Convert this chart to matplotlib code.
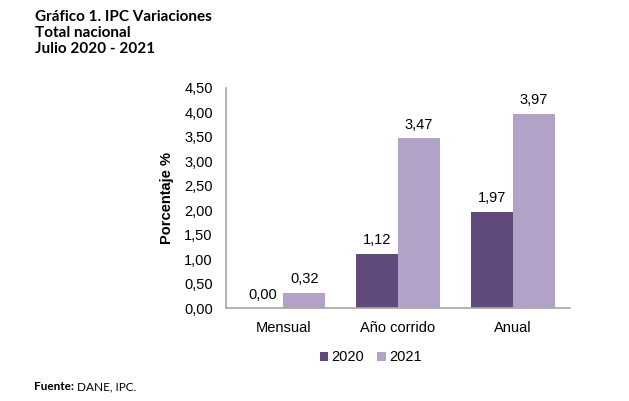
import numpy as np
from matplotlib import pyplot as plt

# Datos del gráfico
categorias = ['Mensual', 'Año corrido', 'Anual']
ipc_2020 = [0.00, 1.12, 1.97]
ipc_2021 = [0.32, 3.47, 3.97]
yticks = [0, 0.5, 1, 1.5, 2, 2.5, 3, 3.5, 4, 4.5]

def coma(v):
    return f"{v:.2f}".replace('.', ',')

plt.rcParams['font.family'] = ['Liberation Sans', 'DejaVu Sans']

fig = plt.figure(figsize=(6.29, 4.01), dpi=100)
ax = fig.add_axes([0.3593, 0.2307, 0.5469, 0.5499])

x = np.arange(len(categorias))
w = 0.366
b1 = ax.bar(x - w / 2, ipc_2020, w, color='#604A7B', label='2020')
b2 = ax.bar(x + w / 2, ipc_2021, w, color='#B3A2C7', label='2021')

for bars, vals in [(b1, ipc_2020), (b2, ipc_2021)]:
    for r, v in zip(bars, vals):
        ax.annotate(coma(v), (r.get_x() + r.get_width() / 2, v),
                    xytext=(0, 5), textcoords='offset points',
                    ha='center', va='bottom', fontsize=10.5, color='black')

ax.set_xlim(-0.5, 2.5)
ax.set_ylim(0, 4.5)
ax.set_yticks(yticks)
ax.set_yticklabels([coma(t) for t in yticks])
ax.set_xticks(x)
ax.set_xticklabels(categorias)
ax.tick_params(axis='both', length=0, labelsize=10.5, colors='black')
ax.tick_params(axis='y', pad=9.5)
ax.tick_params(axis='x', pad=9)

for s in ['top', 'right']:
    ax.spines[s].set_visible(False)
for s in ['left', 'bottom']:
    ax.spines[s].set_color('#A6A6A6')
    ax.spines[s].set_linewidth(1.2)

ax.set_ylabel('Porcentaje %', fontsize=10.5, fontweight='bold', labelpad=7)

ax.legend(loc='upper center', bbox_to_anchor=(0.42, -0.13), ncol=2,
          frameon=False, fontsize=10.5, handlelength=0.6, handleheight=0.6,
          handletextpad=0.2, columnspacing=0.9)

# Títulos
tfont = dict(family=['Lato', 'DejaVu Sans'], fontweight='bold', fontsize=11)
fig.text(35 / 629, 1 - 21 / 401, 'Gráfico 1. IPC Variaciones', va='baseline', **tfont)
fig.text(35 / 629, 1 - 37 / 401, 'Total nacional', va='baseline', **tfont)
fig.text(35 / 629, 1 - 53 / 401, 'Julio 2020 - 2021', va='baseline', **tfont)

fig.text(34 / 629, 1 - 390 / 401, 'Fuente:', va='baseline',
         family=['Lato', 'DejaVu Sans'], fontweight='bold', fontsize=8.5)
fig.text(77 / 629, 1 - 390 / 401, 'DANE, IPC.', va='baseline',
         family=['Lato', 'DejaVu Sans'], fontsize=8.5)

fig.savefig('out.png', dpi=100)
